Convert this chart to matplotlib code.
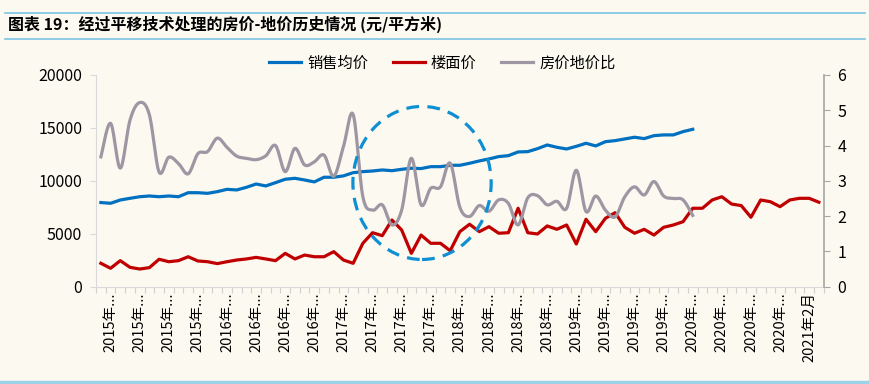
import numpy as np
import matplotlib.pyplot as plt
from matplotlib.patches import Ellipse
from matplotlib.lines import Line2D

plt.rcParams['font.family'] = ['Noto Sans CJK SC', 'DejaVu Sans']

# monthly categories 2015-01 .. 2021-03
months = [f'{y}年{m}月' for y in range(2015, 2022) for m in range(1, 13)][:75]

# labels shown every 3 months (Excel truncated most of them)
tick_pos = list(range(1, 75, 3))
tick_labels = (['2015年...'] * 4 + ['2016年...'] * 4 + ['2017年...'] * 4 +
               ['2018年...'] * 4 + ['2019年...'] * 4 + ['2020年...'] * 4 +
               ['2021年2月'])

# 销售均价 (元/平方米), ends 2020-02
sales_price = [7950, 7880, 8190, 8350, 8500, 8570, 8500, 8570, 8500, 8880,
               8880, 8820, 8980, 9200, 9140, 9390, 9700, 9520, 9830, 10150,
               10240, 10080, 9900, 10340, 10340, 10470, 10770, 10870, 10930, 11030,
               10960, 11090, 11190, 11160, 11340, 11340, 11470, 11470, 11660, 11880,
               12070, 12290, 12380, 12730, 12760, 13040, 13390, 13170, 13010, 13260,
               13550, 13300, 13700, 13800, 13960, 14120, 13990, 14270, 14340, 14340,
               14650, 14870]

# 楼面价 (元/平方米)
floor_price = [2210, 1740, 2460, 1830, 1670, 1800, 2590, 2360, 2460, 2830,
               2430, 2360, 2180, 2360, 2520, 2620, 2770, 2620, 2460, 3150,
               2620, 2990, 2830, 2830, 3310, 2520, 2210, 4100, 5100, 4820,
               6300, 5360, 3150, 4880, 4100, 4100, 3400, 5200, 5900, 5200,
               5670, 5050, 5100, 7410, 5100, 4980, 5740, 5420, 5830, 4030,
               6370, 5200, 6460, 6990, 5610, 5050, 5420, 4880, 5610, 5830,
               6140, 7410, 7410, 8190, 8500, 7810, 7660, 6560, 8190, 8030,
               7560, 8190, 8350, 8350, 7980]

# 房价地价比 (right axis)
ratio = [3.68, 4.63, 3.36, 4.72, 5.22, 4.87, 3.25, 3.67, 3.49, 3.20,
         3.77, 3.83, 4.21, 3.95, 3.70, 3.64, 3.60, 3.71, 4.00, 3.26,
         3.92, 3.45, 3.54, 3.73, 3.13, 3.97, 4.88, 2.55, 2.17, 2.32,
         1.75, 2.17, 3.64, 2.32, 2.79, 2.83, 3.50, 2.25, 1.99, 2.30,
         2.14, 2.46, 2.36, 1.75, 2.52, 2.58, 2.32, 2.42, 2.22, 3.30,
         2.13, 2.57, 2.17, 1.98, 2.55, 2.83, 2.60, 2.98, 2.57, 2.50,
         2.46, 2.02]


def smooth(x, y, n=16):
    # excel style smoothed line (catmull-rom)
    p = np.column_stack([x, y]).astype(float)
    p = np.vstack([p[0], p, p[-1]])
    t = np.linspace(0, 1, n, endpoint=False)[:, None]
    out = []
    for i in range(1, len(p) - 2):
        p0, p1, p2, p3 = p[i - 1], p[i], p[i + 1], p[i + 2]
        seg = 0.5 * (2 * p1 + (-p0 + p2) * t + (2 * p0 - 5 * p1 + 4 * p2 - p3) * t ** 2
                     + (-p0 + 3 * p1 - 3 * p2 + p3) * t ** 3)
        out.append(seg)
    out.append(p[-2][None, :])
    out = np.vstack(out)
    return out[:, 0], out[:, 1]


bg = '#FCF9F0'
c_sales = '#0070C0'
c_floor = '#C00000'
c_ratio = '#9E96A3'

fig = plt.figure(figsize=(8.69, 3.84), dpi=100, facecolor=bg)
ax = fig.add_axes([0.1105, 0.2534, 0.8374, 0.5513])
ax.set_facecolor(bg)
ax2 = ax.twinx()
ax2.patch.set_visible(False)

x_sales = np.arange(len(sales_price))
x_floor = np.arange(len(floor_price))
ax.plot(x_sales, sales_price, color=c_sales, lw=2.3, solid_joinstyle='round')
ax.plot(x_floor, floor_price, color=c_floor, lw=2.3, solid_joinstyle='round')
sx, sy = smooth(np.arange(len(ratio)), ratio)
ax2.plot(sx, sy, color=c_ratio, lw=2.3)

ax.set_xlim(-0.5, len(months) - 0.5)
ax.set_ylim(0, 20000)
ax.set_yticks(range(0, 20001, 5000))
ax2.set_ylim(0, 6)
ax2.set_yticks(range(0, 7))

ax.set_xticks(tick_pos)
ax.set_xticklabels(tick_labels, rotation=90, fontsize=10.5, va='top', ha='center')
ax.set_xticks(np.arange(-0.5, len(months)), minor=True)
ax.tick_params(axis='x', which='major', length=0, pad=4)
ax.tick_params(axis='x', which='minor', length=4, color='#D0D0D0', width=0.8)
ax.tick_params(axis='y', length=4, color='#D9D9D9', labelsize=11.5, pad=6)
ax2.tick_params(axis='y', length=4, color='#A6A6A6', labelsize=11.5, pad=6)

for s in ['top', 'right']:
    ax.spines[s].set_visible(False)
for s in ['left', 'bottom']:
    ax.spines[s].set_color('#D9D9D9')
for s in ['top', 'left', 'bottom']:
    ax2.spines[s].set_visible(False)
ax2.spines['right'].set_color('#A6A6A6')
ax2.spines['right'].set_linewidth(1.2)

# highlight circle
ax2.add_patch(Ellipse((0.448, 0.49), 0.19, 0.723, transform=ax.transAxes, fill=False,
                      ec='#0F8FD3', lw=2.3, ls=(0, (4, 2.6)), zorder=5))

handles = [Line2D([], [], color=c_sales, lw=2.3),
           Line2D([], [], color=c_floor, lw=2.3),
           Line2D([], [], color=c_ratio, lw=2.3)]
fig.legend(handles, ['销售均价', '楼面价', '房价地价比'], loc='center', ncol=3,
           bbox_to_anchor=(0.509, 1 - 63 / 384), frameon=False, fontsize=11,
           handlelength=2.1, columnspacing=1.6, handletextpad=0.4)

# title block
fig.text(0.009, 1 - 24 / 384, '图表 19：经过平移技术处理的房价-地价历史情况 (元/平方米)',
         fontsize=11.5, fontweight='bold', style='italic', va='center', ha='left')
fig.add_artist(Line2D([0.006, 0.995], [1 - 13 / 384] * 2, color='#7CC3E6', lw=1.2))
fig.add_artist(Line2D([0.006, 0.995], [1 - 39 / 384] * 2, color='#7CC3E6', lw=1.2))
fig.add_artist(Line2D([0.0, 1.0], [1 - 382 / 384] * 2, color='#9DD3EA', lw=2.5))

fig.savefig('out.png', dpi=100, facecolor=bg)
